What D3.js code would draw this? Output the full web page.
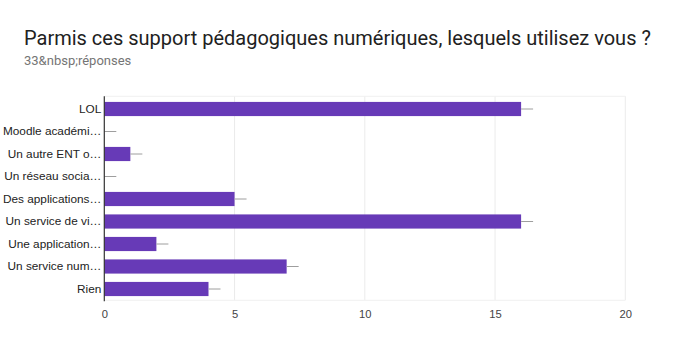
<!DOCTYPE html>
<html><head><meta charset="utf-8">
<script src="https://cdn.jsdelivr.net/npm/d3@7"></script>
<style>body{margin:0;background:#fff;}svg{display:block;}</style>
</head><body>
<script>
const categories = ["LOL","Moodle académi…","Un autre ENT o…","Un réseau socia…","Des applications…","Un service de vi…","Une application…","Un service num…","Rien"];
const values = [16,0,1,0,5,16,2,7,4];
const xTicks = [0,5,10,15,20];
const title = "Parmis ces support pédagogiques numériques, lesquels utilisez vous ?";
const subtitle = "33&nbsp;réponses";

(function(){
const W=696,H=337;
const svg=d3.select("body").append("svg").attr("width",W).attr("height",H);
svg.append("rect").attr("width",W).attr("height",H).attr("fill","#fff");
svg.append("text").attr("x",24).attr("y",44.5).attr("font-family","Roboto").attr("font-size",20).attr("fill","#212121").text(title);
svg.append("text").attr("x",24).attr("y",64.5).attr("font-family","Roboto").attr("font-size",13).attr("fill","#757575").text(subtitle);

const pL=104.3,pR=625.3,pT=97.75,pB=300.25;
const x=d3.scaleLinear().domain([0,20]).range([pL,pR]);
const y=d3.scaleBand().domain(categories).range([pT,pB]).paddingInner(0.37).paddingOuter(0.185);

svg.append("g").selectAll("line").data(xTicks.slice(1)).join("line")
 .attr("x1",d=>x(d)).attr("x2",d=>x(d)).attr("y1",pT-1.5).attr("y2",pB)
 .attr("stroke","#ebebeb").attr("stroke-width",1);
svg.append("line").attr("x1",pL).attr("x2",pR).attr("y1",pT-1.5).attr("y2",pT-1.5).attr("stroke","#f0f0f0");
svg.append("line").attr("x1",pL).attr("x2",pR).attr("y1",pB).attr("y2",pB).attr("stroke","#f0f0f0");

svg.append("g").selectAll("rect").data(values).join("rect")
 .attr("x",x(0)).attr("y",(d,i)=>y(categories[i])).attr("width",d=>x(d)-x(0)).attr("height",y.bandwidth())
 .attr("fill","#673ab7");
svg.append("g").selectAll("line").data(values).join("line")
 .attr("x1",d=>x(d)).attr("x2",d=>x(d)+12).attr("y1",(d,i)=>y(categories[i])+y.bandwidth()/2).attr("y2",(d,i)=>y(categories[i])+y.bandwidth()/2)
 .attr("stroke","#9e9e9e").attr("stroke-width",1);

svg.append("line").attr("x1",x(0)).attr("x2",x(0)).attr("y1",pT-1.5).attr("y2",pB+1).attr("stroke","#333").attr("stroke-width",1.2);

const xa=d3.axisBottom(x).tickValues(xTicks).tickSize(0).tickPadding(9.5);
const gx=svg.append("g").attr("transform",`translate(0,${pB})`).call(xa);
gx.select(".domain").remove();
gx.selectAll("text").attr("font-family","Arial, Liberation Sans").attr("font-size",11.2).attr("fill","#444");

const ya=d3.axisLeft(y).tickSize(0).tickPadding(3);
const gy=svg.append("g").attr("transform",`translate(${pL},0)`).call(ya);
gy.select(".domain").remove();
gy.selectAll("text").attr("font-family","Arial, Liberation Sans").attr("font-size",11.8).attr("fill","#222");
})();
</script>
</body></html>
